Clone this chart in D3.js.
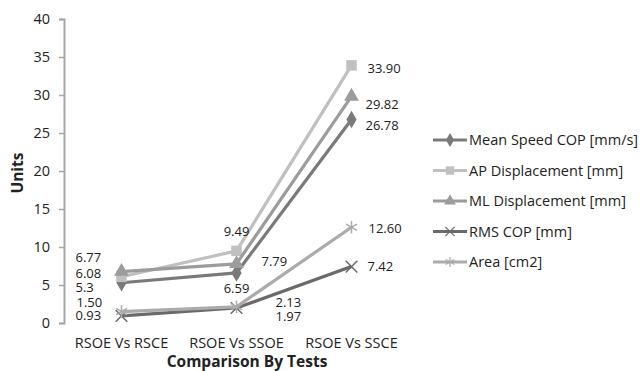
<!DOCTYPE html>
<html><head><meta charset="utf-8">
<script src="https://cdn.jsdelivr.net/npm/d3@7"></script>
<style>
body{margin:0;background:#fff;}
text{font-family:"Open Sans","Liberation Sans",sans-serif;fill:#222;}
</style></head>
<body><svg id="c" width="641" height="371"></svg>
<script>
const categories = ["RSOE Vs RSCE", "RSOE Vs SSOE", "RSOE Vs SSCE"];
const seriesNames = ["Mean Speed COP [mm/s]", "AP Displacement [mm]", "ML Displacement [mm]", "RMS COP [mm]", "Area [cm2]"];
const meanSpeed = [5.3, 6.59, 26.78];
const apDisp = [6.08, 9.49, 33.90];
const mlDisp = [6.77, 7.79, 29.82];
const rmsCop = [0.93, 1.97, 7.42];
const area = [1.50, 2.13, 12.60];
const labelText = [["5.3", "6.59", "26.78"], ["6.08", "9.49", "33.90"], ["6.77", "7.79", "29.82"], ["0.93", "1.97", "7.42"], ["1.50", "2.13", "12.60"]];
const yTicks = [0, 5, 10, 15, 20, 25, 30, 35, 40];

const seriesValues = [meanSpeed, apDisp, mlDisp, rmsCop, area];
const colors = ["#7a7a7a", "#c0c0c0", "#9c9c9c", "#6a6a6a", "#ababab"];
const markers = ["diamond", "square", "triangle", "x", "star"];
// label offsets (dx, dy, anchor) per series per category
const labelPos = [
  [[-46, 5, "start"], [0, 16, "middle"], [14, 6, "start"]],
  [[-46, -3, "start"], [0, -19, "middle"], [16, 3, "start"]],
  [[-46, -14, "start"], [25, -2, "start"], [14, 8, "start"]],
  [[-46, 0, "start"], [39, 8, "start"], [16, 0, "start"]],
  [[-45, -9, "start"], [39, -4, "start"], [17, 1, "start"]]
];

const svg = d3.select("#c");
const x = d3.scaleBand().domain(categories).range([64, 409]);
const y = d3.scaleLinear().domain([0, 40]).range([323, 19]);

// y axis
const ya = svg.append("g").attr("transform", "translate(64,0)")
  .call(d3.axisLeft(y).tickValues(yTicks).tickSize(5).tickPadding(9));
ya.select(".domain").attr("stroke", "#a6a6a6").attr("stroke-width", 2);
ya.selectAll(".tick line").attr("stroke", "#a6a6a6").attr("stroke-width", 1.5);
ya.selectAll(".tick text").style("font-size", "14.5px").attr("fill", "#222")
  .style("font-family", "'Open Sans',sans-serif");

// x labels
const xa = svg.append("g").attr("transform", "translate(0,323)")
  .call(d3.axisBottom(x).tickSize(0).tickPadding(15));
xa.select(".domain").remove();
xa.selectAll(".tick text").style("font-size", "14.5px").attr("fill", "#222")
  .style("font-family", "'Open Sans',sans-serif");

const cx = c => x(c) + x.bandwidth() / 2;

function sym(type) {
  const s = {diamond: d3.symbolDiamond, square: d3.symbolSquare, triangle: d3.symbolTriangle, x: d3.symbolX, star: d3.symbolAsterisk}[type];
  const size = {diamond: 90, square: 110, triangle: 95, x: 90, star: 110}[type];
  return d3.symbol().type(s).size(size)();
}

const line = d3.line().x((d, i) => cx(categories[i])).y(d => y(d));

seriesValues.forEach((vals, si) => {
  svg.append("path").datum(vals).attr("d", line).attr("fill", "none")
    .attr("stroke", colors[si]).attr("stroke-width", 3.2).attr("stroke-linejoin", "round");
  vals.forEach((v, i) => {
    const m = svg.append("path").attr("d", sym(markers[si]))
      .attr("transform", `translate(${cx(categories[i])},${y(v)})`);
    if (markers[si] === "x" || markers[si] === "star") m.attr("fill", "none").attr("stroke", colors[si]).attr("stroke-width", 1.5);
    else m.attr("fill", colors[si]);
  });
});

// labels
seriesValues.forEach((vals, si) => {
  vals.forEach((v, i) => {
    const p = labelPos[si][i];
    svg.append("text").attr("x", cx(categories[i]) + p[0]).attr("y", y(v) + p[1])
      .attr("dy", "0.35em").attr("text-anchor", p[2]).style("font-size", "13px")
      .text(labelText[si][i]);
  });
});

// legend
const lg = svg.append("g").attr("transform", "translate(433,140)");
seriesNames.forEach((n, si) => {
  const g = lg.append("g").attr("transform", `translate(0,${si * 30.5})`);
  g.append("line").attr("x1", 0).attr("x2", 34).attr("stroke", colors[si]).attr("stroke-width", 3.2);
  const m = g.append("path").attr("d", sym(markers[si])).attr("transform", "translate(17,0) scale(0.8)");
  if (markers[si] === "x" || markers[si] === "star") m.attr("fill", "none").attr("stroke", colors[si]).attr("stroke-width", 1.5);
  else m.attr("fill", colors[si]);
  g.append("text").attr("x", 36).attr("dy", "0.35em").style("font-size", "14.5px").text(n);
});

// axis titles
svg.append("text").attr("transform", "translate(18,173) rotate(-90)").attr("text-anchor", "middle")
  .attr("dy", "0.35em").style("font-size", "15.5px").style("font-weight", "bold").text("Units");
svg.append("text").attr("x", 247).attr("y", 367).attr("text-anchor", "middle")
  .style("font-size", "15.5px").style("font-weight", "bold").text("Comparison By Tests");
</script></body></html>
